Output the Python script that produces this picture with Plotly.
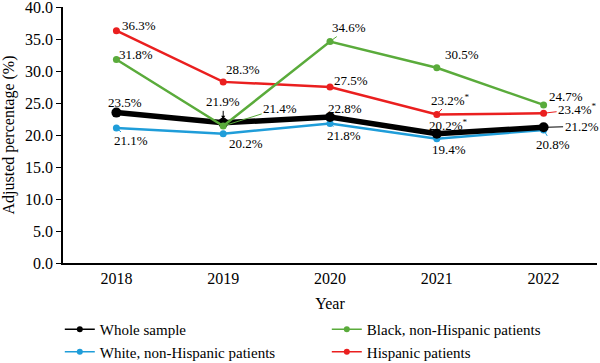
import plotly.graph_objects as go

years = ["2018", "2019", "2020", "2021", "2022"]
whole = [23.5, 21.9, 22.8, 20.2, 21.2]
white = [21.1, 20.2, 21.8, 19.4, 20.8]
black = [31.8, 21.4, 34.6, 30.5, 24.7]
hisp = [36.3, 28.3, 27.5, 23.2, 23.4]

whole_lbl = ["23.5%", "21.9%", "22.8%", "20.2%<sup>*</sup>", "21.2%"]
white_lbl = ["21.1%", "20.2%", "21.8%", "19.4%", "20.8%"]
black_lbl = ["31.8%", "21.4%", "34.6%", "30.5%", "24.7%"]
hisp_lbl = ["36.3%", "28.3%", "27.5%", "23.2%<sup>*</sup>", "23.4%<sup>*</sup>"]

C_WHOLE = "#000000"
C_WHITE = "#1f9dd9"
C_BLACK = "#5aab3b"
C_HISP = "#ea1f1f"
FONT = "Liberation Serif"

fig = go.Figure()
# data traces (drawing order: white, whole, hispanic, black)
fig.add_trace(go.Scatter(x=years, y=white, mode="lines+markers", showlegend=False,
                         line=dict(color=C_WHITE, width=2.5), marker=dict(size=7)))
fig.add_trace(go.Scatter(x=years, y=whole, mode="lines+markers", showlegend=False,
                         line=dict(color=C_WHOLE, width=5.5), marker=dict(size=10)))
fig.add_trace(go.Scatter(x=years, y=hisp, mode="lines+markers", showlegend=False,
                         line=dict(color=C_HISP, width=2.5), marker=dict(size=7)))
fig.add_trace(go.Scatter(x=years, y=black, mode="lines+markers", showlegend=False,
                         line=dict(color=C_BLACK, width=2.5), marker=dict(size=7)))

# legend entries (uniform thin symbols as in the reference)
legend_items = [
    ("Whole sample", C_WHOLE, "legend"),
    ("White, non-Hispanic patients", C_WHITE, "legend"),
    ("Black, non-Hispanic patients", C_BLACK, "legend2"),
    ("Hispanic patients", C_HISP, "legend2"),
]
for rank, (name, col, lg) in enumerate(legend_items):
    fig.add_trace(go.Scatter(x=[None], y=[None], name=name, mode="lines+markers",
                             line=dict(color=col, width=1.5), marker=dict(size=6),
                             legend=lg, legendrank=rank + 1))

# label offsets (pixels): dx, dy (screen, down positive), leader type
offsets = {
    "whole": [(9, -10, 0), (0, -21, 2), (15, -9, 0), (12, -9, 0), (38, -1, 1)],
    "white": [(15, 13, 1), (23, 10, 0), (14, 12, 1), (12, 11, 0), (9, 15, 1)],
    "black": [(20, -5, 0), (57, -18, 1), (19, -14, 1), (25, -13, 0), (22, -8, 0)],
    "hisp": [(23, -5, 0), (20, -12, 0), (21, -7, 0), (14, -15, 1), (34, -4, 1)],
}
series = {"whole": (whole, whole_lbl, C_WHOLE), "white": (white, white_lbl, C_WHITE),
          "black": (black, black_lbl, C_BLACK), "hisp": (hisp, hisp_lbl, C_HISP)}

annotations = []
for key, (vals, lbls, col) in series.items():
    for i, (v, t) in enumerate(zip(vals, lbls)):
        dx, dy, arrow = offsets[key][i]
        if arrow:
            annotations.append(dict(x=i, y=v, xref="x", yref="y", text=t, showarrow=True,
                                    ax=dx, ay=dy, axref="pixel", ayref="pixel",
                                    arrowhead=2 if arrow == 2 else 0, arrowsize=0.8, arrowwidth=1,
                                    arrowcolor=col, standoff=3,
                                    font=dict(family=FONT, size=13, color="black")))
        else:
            annotations.append(dict(x=i, y=v, xref="x", yref="y", text=t, showarrow=False,
                                    xshift=dx, yshift=-dy,
                                    font=dict(family=FONT, size=13, color="black")))

fig.update_layout(
    width=600, height=363,
    margin=dict(l=63, r=3, t=7, b=100, autoexpand=False),
    plot_bgcolor="white", paper_bgcolor="white",
    font=dict(family=FONT, size=16, color="black"),
    showlegend=True,
    annotations=annotations,
    legend=dict(x=-0.006, y=-0.195, xanchor="left", yanchor="top",
                orientation="v", font=dict(family=FONT, size=15), tracegroupgap=0, itemwidth=30,
                bgcolor="rgba(0,0,0,0)"),
    legend2=dict(x=0.494, y=-0.195, xanchor="left", yanchor="top",
                 orientation="v", font=dict(family=FONT, size=15), tracegroupgap=0, itemwidth=30,
                 bgcolor="rgba(0,0,0,0)"),
)
fig.update_xaxes(type="category", range=[-0.5, 4.5], showline=True, linecolor="black", linewidth=1.5,
                 ticks="", showgrid=False, zeroline=False,
                 title=dict(text="Year", font=dict(family=FONT, size=16), standoff=12),
                 tickfont=dict(family=FONT, size=16))
fig.update_yaxes(range=[0, 40], dtick=5, tickformat=".1f", showline=True, linecolor="black", linewidth=1.5,
                 ticks="outside", ticklen=5, tickcolor="black", showgrid=False, zeroline=False,
                 ticklabeloverflow="allow",
                 title=dict(text="Adjusted percentage (%)", font=dict(family=FONT, size=16), standoff=8),
                 tickfont=dict(family=FONT, size=16))

fig.write_html("out.html", config={"displayModeBar": False},
               post_script="document.body.style.margin='0';")
